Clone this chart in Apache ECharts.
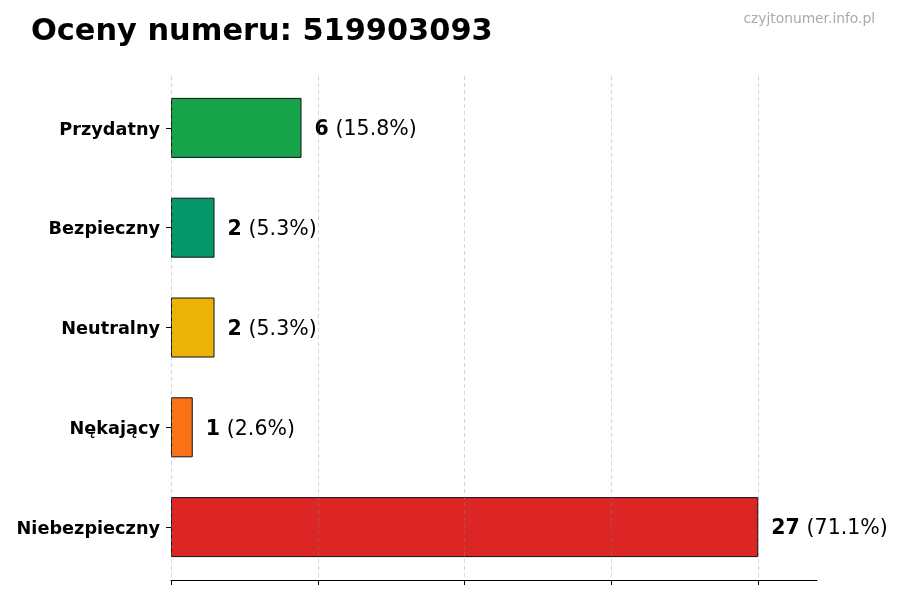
<!DOCTYPE html>
<html>
<head>
<meta charset="utf-8">
<script src="https://cdn.jsdelivr.net/npm/echarts@6/dist/echarts.min.js"></script>
<style>html,body{margin:0;padding:0;background:#fff}#c{width:900px;height:600px}</style>
</head>
<body>
<div id="c"></div>
<script>
var categories = ['Przydatny', 'Bezpieczny', 'Neutralny', 'Nękający', 'Niebezpieczny'];
var values = [6, 2, 2, 1, 27];
var colors = ['#16a34a', '#059669', '#eab308', '#f97316', '#dc2626'];
var titleText = 'Oceny numeru: 519903093';
var watermark = 'czyjtonumer.info.pl';

var total = values.reduce(function (a, b) { return a + b; }, 0);
var maxVal = Math.max.apply(null, values);
var axisMax = maxVal * 1.1;
var tickStep = maxVal / 4;

var FONT = 'DejaVu Sans';
var gridLeft = 171, gridRight = 817;
var gridW = gridRight - gridLeft;

var chart = echarts.init(document.getElementById('c'));
chart.setOption({
  animation: false,
  backgroundColor: '#fff',
  textStyle: { fontFamily: FONT },
  title: [
    { text: titleText, left: 26, top: 12, textStyle: { fontFamily: FONT, fontSize: 30.4, fontWeight: 'bold', color: '#000' } },
    { text: watermark, right: 20, top: 7, textStyle: { fontFamily: FONT, fontSize: 13.8, fontWeight: 'normal', color: '#aaaaaa' } }
  ],
  grid: [
    { left: gridLeft, width: gridW, top: 78, height: 499 },
    { left: gridLeft, width: gridW * maxVal / axisMax, top: 76, height: 504 }
  ],
  xAxis: [
    { gridIndex: 0, type: 'value', min: 0, max: axisMax, offset: 3,
      axisLine: { show: true, lineStyle: { color: '#000', width: 1 } },
      axisTick: { show: false }, axisLabel: { show: false }, splitLine: { show: false } },
    { gridIndex: 1, type: 'value', min: 0, max: maxVal, interval: tickStep, z: 5,
      axisLine: { show: false },
      axisTick: { show: true, length: 5, lineStyle: { color: '#000', width: 1 } },
      axisLabel: { show: false },
      splitLine: { show: true, lineStyle: { color: 'rgba(140,140,140,0.35)', type: [4, 3], width: 1 } } }
  ],
  yAxis: [
    { gridIndex: 0, type: 'category', data: categories, inverse: true,
      axisLine: { show: false },
      axisTick: { show: true, alignWithLabel: true, length: 5, lineStyle: { color: '#000' } },
      axisLabel: {
        margin: 11, color: '#000',
        formatter: function (v) { return '{c|' + v + '}'; },
        rich: { c: { fontFamily: FONT, fontSize: 17.7, fontWeight: 'bold', color: '#000', padding: [4, 0, 0, 0] } }
      } },
    { gridIndex: 1, type: 'category', data: categories, inverse: true, show: false }
  ],
  series: [{
    type: 'bar', xAxisIndex: 0, yAxisIndex: 0, barWidth: 60, z: 2,
    data: values.map(function (v, i) {
      return { value: v, itemStyle: { color: colors[i], borderColor: '#111', borderWidth: 1 } };
    }),
    label: {
      show: true, position: 'right', distance: 13,
      padding: [4, 0, 0, 0],
      formatter: function (p) {
        return '{b|' + p.value + '} {n|(' + (p.value / total * 100).toFixed(1) + '%)}';
      },
      rich: {
        b: { fontFamily: FONT, fontSize: 20.5, fontWeight: 'bold', color: '#000' },
        n: { fontFamily: FONT, fontSize: 20.5, color: '#000', padding: [0, 0, 0, 3] }
      }
    }
  }]
});
</script>
</body>
</html>
